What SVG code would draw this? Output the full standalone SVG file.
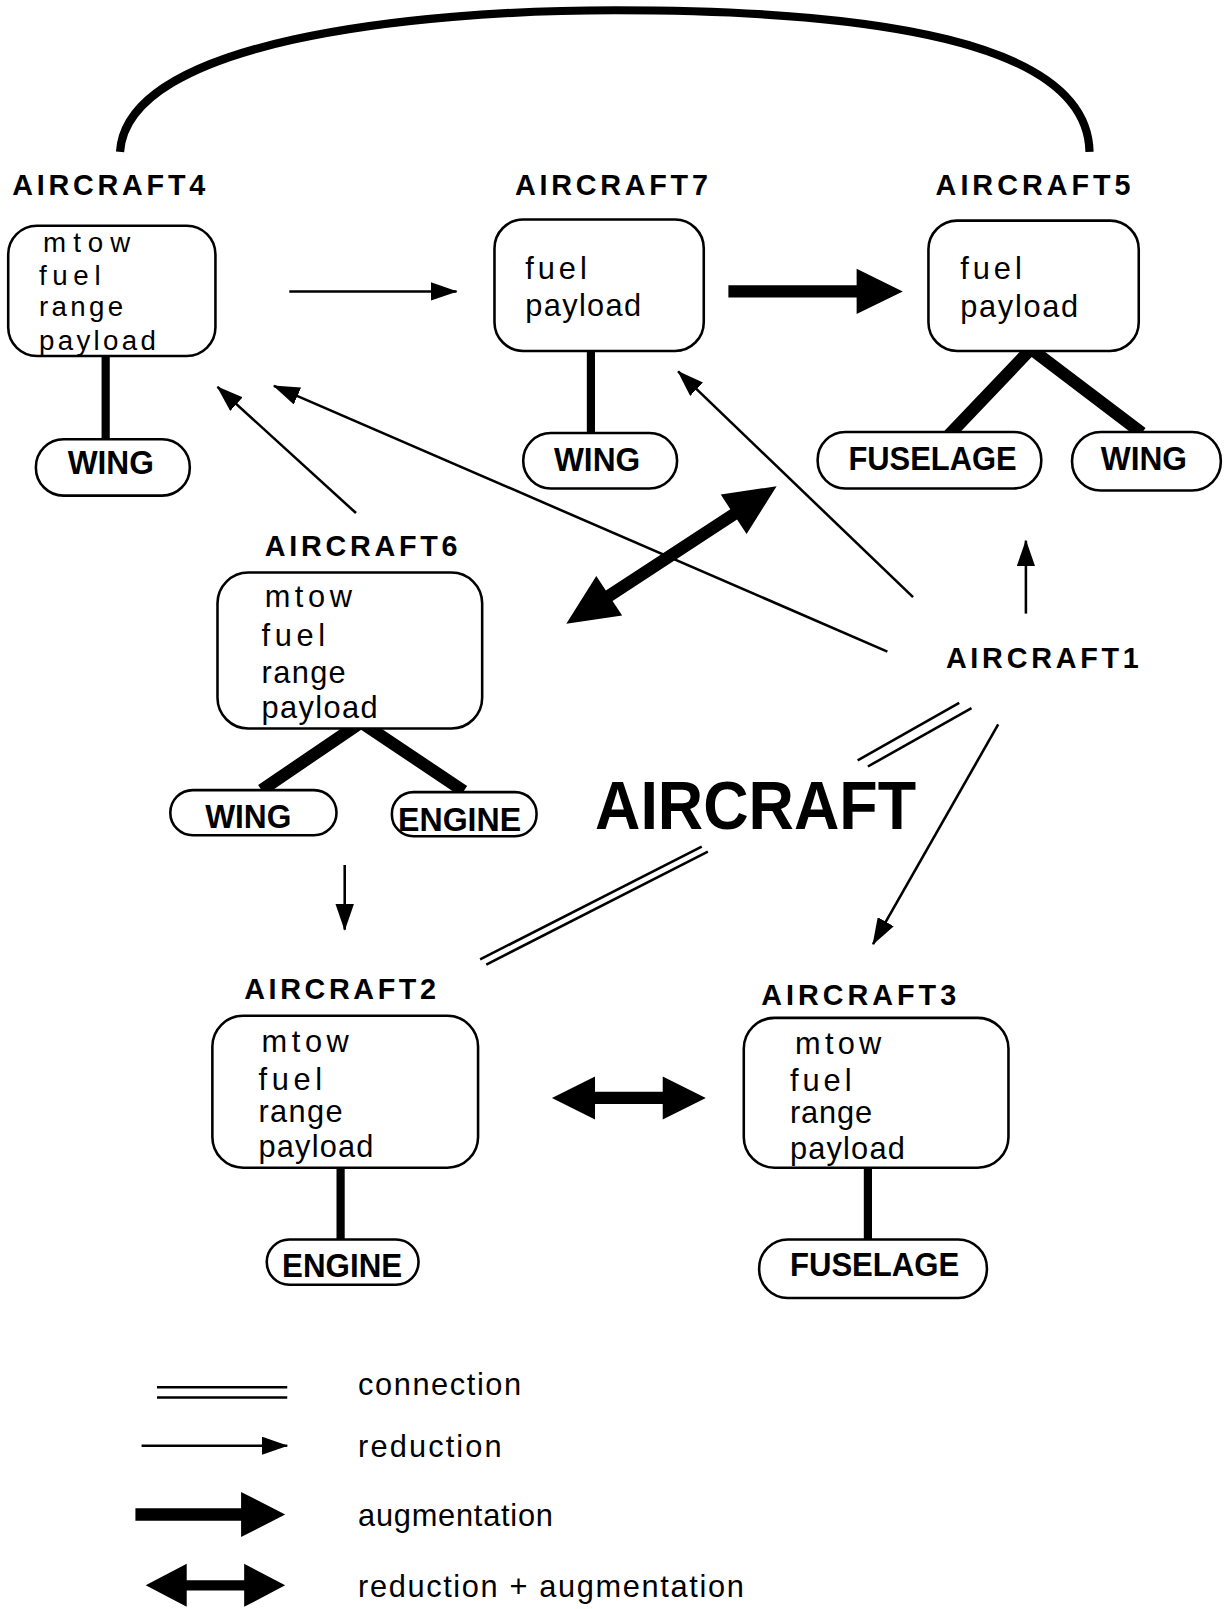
<svg xmlns="http://www.w3.org/2000/svg" width="1232" height="1609" viewBox="0 0 1232 1609">
<defs>
<style>
.box{fill:#fff;stroke:#000;stroke-width:2.5}
.lbl{font-family:"Liberation Sans",Arial,sans-serif;font-weight:bold;font-size:28px;fill:#000}
.cmp{font-family:"Liberation Sans",Arial,sans-serif;font-weight:bold;font-size:32px;fill:#000}
.att{font-family:"Liberation Sans",Arial,sans-serif;font-size:30px;fill:#000}
.att4{font-family:"Liberation Sans",Arial,sans-serif;font-size:27px;fill:#000}
.leg{font-family:"Liberation Sans",Arial,sans-serif;font-size:30px;fill:#000}
.big{font-family:"Liberation Sans",Arial,sans-serif;font-weight:bold;font-size:67px;fill:#000}
.red{stroke:#000;stroke-width:2.5;fill:none;marker-end:url(#ah)}
.con{stroke:#000;stroke-width:2.5;fill:none}
.part{stroke:#000;stroke-width:8;fill:none}
.part2{stroke:#000;stroke-width:12;fill:none}
.solid{fill:#000;stroke:none}
</style>
<marker id="ah" markerUnits="userSpaceOnUse" markerWidth="26" markerHeight="18" refX="25" refY="9" orient="auto">
<path d="M0,0 L26,9 L0,18 z" fill="#000"/>
</marker>
</defs>
<g transform="scale(1.0259,1.0261)">
<g id="connectors">
<path d="M117,148 C124,40 400,10 600,10 C850,10 1060,40 1062,148" stroke="#000" stroke-width="8" fill="none"/>
<line class="red" x1="282" y1="284" x2="445" y2="284"/>
<path class="solid" d="M710,278 L835,278 L835,262 L880,284 L835,306 L835,290 L710,290 z"/>
<line class="red" x1="347" y1="500" x2="212" y2="377"/>
<line class="red" x1="865" y1="635" x2="267" y2="376"/>
<line class="red" x1="890" y1="582" x2="661" y2="362"/>
<line class="red" x1="1000" y1="598" x2="1000" y2="527"/>
<path class="solid" transform="translate(552,608) rotate(-33.2)" d="M0,0 L50,-23 L50,-6 L195,-6 L195,-23 L245,0 L195,23 L195,6 L50,6 L50,23 z"/>
<line class="con" x1="935" y1="685" x2="836" y2="741"/>
<line class="con" x1="947" y1="690" x2="846" y2="747"/>
<line class="con" x1="684" y1="825" x2="468" y2="935"/>
<line class="con" x1="690" y1="830" x2="474" y2="940"/>
<line class="red" x1="973" y1="706" x2="851" y2="920"/>
<line class="red" x1="336" y1="843" x2="336" y2="906"/>
<path class="solid" d="M538,1070 L580,1049 L580,1064 L646,1064 L646,1049 L688,1070 L646,1091 L646,1076 L580,1076 L580,1091 z"/>
<line class="part" x1="103" y1="347" x2="103" y2="430"/>
<line class="part" x1="576" y1="342" x2="576" y2="423"/>
<polyline class="part2" points="925,424 1005,340 1113,422"/>
<polyline class="part2" points="255,770 352,704 452,771"/>
<line class="part" x1="332" y1="1128" x2="332" y2="1210"/>
<line class="part" x1="846" y1="1130" x2="846" y2="1209"/>
</g>
<g id="aircraft4">
<text class="lbl" x="12" y="190" textLength="188">AIRCRAFT4</text>
<rect class="box" x="8" y="220" width="202" height="127" rx="28"/>
<text class="att4" x="42" y="246" textLength="85">mtow</text>
<text class="att4" x="38" y="278" textLength="60">fuel</text>
<text class="att4" x="38" y="308" textLength="82">range</text>
<text class="att4" x="38" y="341" textLength="114">payload</text>
</g>
<g id="aircraft4-wing">
<rect class="box" x="35" y="428" width="150" height="55" rx="27"/>
<text class="cmp" x="66" y="462" textLength="84" lengthAdjust="spacingAndGlyphs">WING</text>
</g>
<g id="aircraft7">
<text class="lbl" x="502" y="190" textLength="188">AIRCRAFT7</text>
<rect class="box" x="482" y="214" width="204" height="128" rx="28"/>
<text class="att" x="512" y="272" textLength="60">fuel</text>
<text class="att" x="512" y="308" textLength="113">payload</text>
</g>
<g id="aircraft7-wing">
<rect class="box" x="510" y="422" width="150" height="54" rx="27"/>
<text class="cmp" x="540" y="459" textLength="84" lengthAdjust="spacingAndGlyphs">WING</text>
</g>
<g id="aircraft5">
<text class="lbl" x="912" y="190" textLength="190">AIRCRAFT5</text>
<rect class="box" x="905" y="215" width="205" height="127" rx="28"/>
<text class="att" x="936" y="272" textLength="60">fuel</text>
<text class="att" x="936" y="309" textLength="115">payload</text>
</g>
<g id="aircraft5-fuselage">
<rect class="box" x="797" y="421" width="218" height="55" rx="27"/>
<text class="cmp" x="827" y="458" textLength="164" lengthAdjust="spacingAndGlyphs">FUSELAGE</text>
</g>
<g id="aircraft5-wing">
<rect class="box" x="1045" y="421" width="145" height="57" rx="28"/>
<text class="cmp" x="1073" y="458" textLength="84" lengthAdjust="spacingAndGlyphs">WING</text>
</g>
<g id="aircraft6">
<text class="lbl" x="258" y="542" textLength="188">AIRCRAFT6</text>
<rect class="box" x="212" y="558" width="258" height="152" rx="30"/>
<text class="att" x="258" y="592" textLength="85">mtow</text>
<text class="att" x="255" y="630" textLength="62">fuel</text>
<text class="att" x="255" y="666" textLength="82">range</text>
<text class="att" x="255" y="700" textLength="113">payload</text>
</g>
<g id="aircraft6-wing">
<rect class="box" x="166" y="770" width="162" height="44" rx="22"/>
<text class="cmp" x="200" y="807" textLength="84" lengthAdjust="spacingAndGlyphs">WING</text>
</g>
<g id="aircraft6-engine">
<rect class="box" x="382" y="772" width="141" height="43" rx="21"/>
<text class="cmp" x="388" y="810" textLength="120" lengthAdjust="spacingAndGlyphs">ENGINE</text>
</g>
<g id="aircraft1">
<text class="lbl" x="922" y="651" textLength="188">AIRCRAFT1</text>
</g>
<g id="aircraft">
<text class="big" x="580" y="808" textLength="313" lengthAdjust="spacingAndGlyphs">AIRCRAFT</text>
</g>
<g id="aircraft2">
<text class="lbl" x="238" y="974" textLength="187">AIRCRAFT2</text>
<rect class="box" x="207" y="990" width="259" height="148" rx="30"/>
<text class="att" x="255" y="1025" textLength="85">mtow</text>
<text class="att" x="252" y="1062" textLength="62">fuel</text>
<text class="att" x="252" y="1093" textLength="82">range</text>
<text class="att" x="252" y="1128" textLength="112">payload</text>
</g>
<g id="aircraft2-engine">
<rect class="box" x="260" y="1208" width="148" height="44" rx="22"/>
<text class="cmp" x="275" y="1245" textLength="117" lengthAdjust="spacingAndGlyphs">ENGINE</text>
</g>
<g id="aircraft3">
<text class="lbl" x="742" y="979" textLength="190">AIRCRAFT3</text>
<rect class="box" x="725" y="992" width="258" height="146" rx="30"/>
<text class="att" x="775" y="1027" textLength="84">mtow</text>
<text class="att" x="770" y="1063" textLength="60">fuel</text>
<text class="att" x="770" y="1094" textLength="80">range</text>
<text class="att" x="770" y="1130" textLength="112">payload</text>
</g>
<g id="aircraft3-fuselage">
<rect class="box" x="740" y="1208" width="222" height="57" rx="28"/>
<text class="cmp" x="770" y="1244" textLength="165" lengthAdjust="spacingAndGlyphs">FUSELAGE</text>
</g>
<g id="legend">
<line class="con" x1="153" y1="1352" x2="280" y2="1352"/>
<line class="con" x1="153" y1="1362" x2="280" y2="1362"/>
<text class="leg" x="349" y="1360" textLength="159">connection</text>
<line class="red" x1="138" y1="1409" x2="280" y2="1409"/>
<text class="leg" x="349" y="1420" textLength="140">reduction</text>
<path class="solid" d="M132,1470 L235,1470 L235,1454 L278,1476 L235,1498 L235,1482 L132,1482 z"/>
<text class="leg" x="349" y="1487" textLength="190">augmentation</text>
<path class="solid" d="M142,1545 L182,1524 L182,1540 L238,1540 L238,1524 L278,1545 L238,1566 L238,1550 L182,1550 L182,1566 z"/>
<text class="leg" x="349" y="1556" textLength="376">reduction + augmentation</text>
</g>
</g>
</svg>
